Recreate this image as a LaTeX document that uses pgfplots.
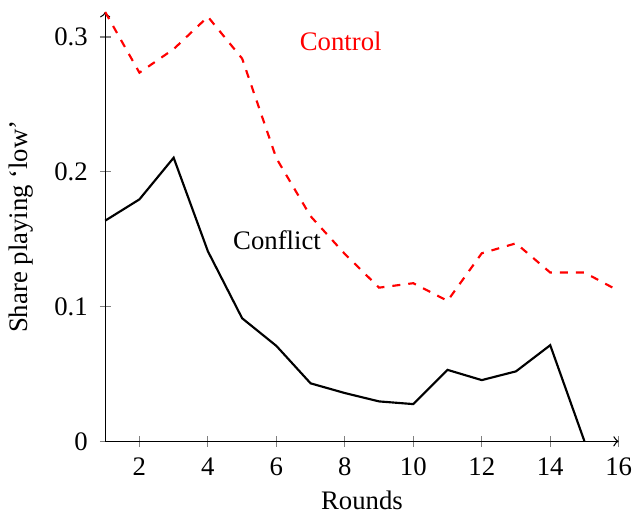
\documentclass[border=0pt]{standalone}
\usepackage{pgfplots}
\pgfplotsset{compat=1.18}
\usepackage{fontspec}
\setmainfont{Liberation Serif}
\begin{document}
\begin{tikzpicture}
\begin{axis}[
  scale only axis,
  width=192pt, height=160.5pt,
  axis lines=left,
  axis line style={->, line width=0.5pt},
  xmin=1, xmax=16, ymin=0, ymax=0.3185,
  xtick={2,4,...,16},
  ytick={0,0.1,0.2,0.3},
  yticklabels={0,0.1,0.2,0.3},
  tick align=center,
  tick style={gray, line width=0.4pt},
  major tick length=4pt,
  yticklabel style={xshift=-1pt},
  xticklabel style={yshift=-0.5pt},
  /pgf/number format/assume math mode=true,
  xlabel={Rounds},
  xlabel style={yshift=1pt},
  ylabel={Share playing `low'},
  ylabel style={yshift=1pt},
  clip=false,
]
\addplot[red, dashed, thick] coordinates {
(1,0.3185) (2,0.2735) (3,0.291) (4,0.315) (5,0.284) (6,0.210) (7,0.167) (8,0.139)
(9,0.114) (10,0.1173) (11,0.1042) (12,0.1395) (13,0.1469) (14,0.1252) (15,0.1252) (16,0.1116)
};
\addplot[black, thick] coordinates {
(1,0.1637) (2,0.1795) (3,0.2104) (4,0.141) (5,0.0913) (6,0.0708) (7,0.043) (8,0.0358)
(9,0.0296) (10,0.0276) (11,0.053) (12,0.0454) (13,0.0519) (14,0.0713) (15,0)
};
\node[red] at (axis cs:7.88,0.2965) {Control};
\node[black] at (axis cs:6.02,0.149) {Conflict};
\path (axis cs:1,0.3185) ++(0,4.5pt) coordinate (topspace);
\end{axis}
\end{tikzpicture}
\end{document}
